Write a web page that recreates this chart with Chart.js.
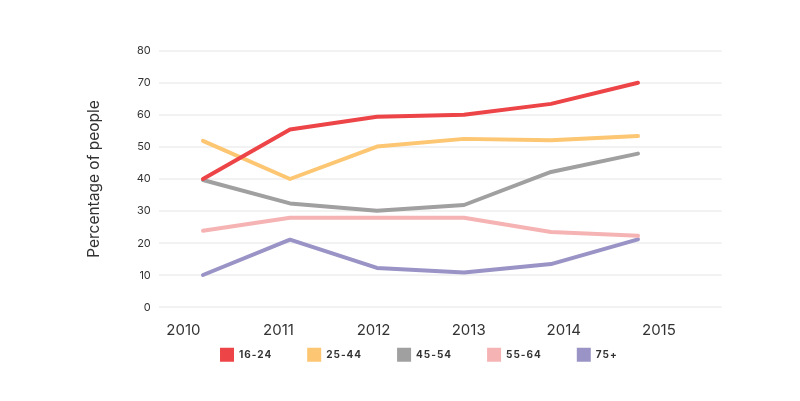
<!DOCTYPE html>
<html>
<head>
<meta charset="utf-8">
<script src="https://cdn.jsdelivr.net/npm/chart.js@4/dist/chart.umd.min.js"></script>
<style>
  html, body { margin: 0; padding: 0; background: #ffffff; }
  #wrap { width: 800px; height: 401px; }
</style>
</head>
<body>
<div id="wrap"><canvas id="c" width="800" height="401"></canvas></div>
<script>
// ---- data ----
const categories = ['2010', '2011', '2012', '2013', '2014', '2015'];
const xTickLabels = ['2010', '2011', '2012', '2013', '2014', '2015'];
const seriesNames = ['16-24', '25-44', '45-54', '55-64', '75+'];
const s16_24 = [40, 55.4, 59.4, 60.0, 63.4, 70.0];
const s25_44 = [51.9, 40.0, 50.1, 52.5, 52.1, 53.4];
const s45_54 = [39.7, 32.4, 30.1, 31.9, 42.2, 47.9];
const s55_64 = [23.9, 27.9, 27.9, 27.9, 23.5, 22.3];
const s75p = [10.1, 21.1, 12.3, 10.9, 13.5, 21.2];
const yTicks = [0, 80, 10]; // min, max, step

const colors = ['#ed4447', '#fcc672', '#a0a0a0', '#f6b3b4', '#9993c6'];
const seriesValues = [s16_24, s25_44, s45_54, s55_64, s75p];

const FONT = 'Inter, "Noto Sans", sans-serif';
const LEGEND_SHIFT = -26.7;

// legend: letter spacing + pull it up towards the axis labels
const legendTweak = {
  id: 'legendTweak',
  afterInit(chart) {
    const lg = chart.legend;
    if (!lg || lg.__patched) return;
    const origFit = lg.fit.bind(lg);
    const origDraw = lg.draw.bind(lg);
    lg.fit = function (...a) {
      const ctx = chart.ctx;
      const prev = ctx.letterSpacing;
      ctx.letterSpacing = '1px';
      const r = origFit(...a);
      ctx.letterSpacing = prev || '0px';
      return r;
    };
    lg.draw = function (...a) {
      const ctx = chart.ctx;
      const prev = ctx.letterSpacing;
      const t = this.top, b = this.bottom;
      this.top = t + LEGEND_SHIFT;
      this.bottom = b + LEGEND_SHIFT;
      ctx.letterSpacing = '1px';
      const r = origDraw(...a);
      ctx.letterSpacing = prev || '0px';
      this.top = t;
      this.bottom = b;
      return r;
    };
    lg.__patched = true;
  }
};

const datasets = seriesNames.map((name, i) => ({
  label: name,
  data: seriesValues[i],
  borderColor: colors[i],
  backgroundColor: colors[i],
  borderWidth: 4,
  pointRadius: 0,
  pointHoverRadius: 0,
  tension: 0,
  borderCapStyle: 'round',
  borderJoinStyle: 'round',
  fill: false,
  xAxisID: 'x',
  yAxisID: 'y'
}));

new Chart(document.getElementById('c'), {
  type: 'line',
  data: { labels: categories, datasets },
  plugins: [legendTweak],
  options: {
    responsive: false,
    animation: false,
    devicePixelRatio: 1,
    layout: { padding: { left: 116, right: 78.3, top: 50.6, bottom: 2.6 } },
    plugins: {
      tooltip: { enabled: false },
      legend: {
        display: true,
        position: 'bottom',
        align: 'center',
        labels: {
          boxWidth: 14,
          boxHeight: 14,
          padding: 35,
          color: '#333333',
          font: { family: FONT, size: 10, weight: 'bold' },
          generateLabels(chart) {
            const items = Chart.defaults.plugins.legend.labels.generateLabels(chart);
            items.forEach(it => { it.lineWidth = 0; it.fillStyle = it.strokeStyle; });
            return items;
          }
        }
      }
    },
    scales: {
      x: {
        type: 'linear',
        display: false,
        min: 2009.498,
        max: 2015.962
      },
      x2: {
        type: 'linear',
        axis: 'x',
        position: 'bottom',
        min: 2009.747,
        max: 2015.66,
        grid: { display: false, drawTicks: false },
        border: { display: false },
        ticks: {
          stepSize: 1,
          includeBounds: false,
          padding: 14,
          color: '#333333',
          font: { family: FONT, size: 15 },
          callback: (v, i) => xTickLabels[i]
        },
        afterFit(scale) { scale.height = 32; }
      },
      y: {
        type: 'linear',
        position: 'left',
        min: yTicks[0],
        max: yTicks[1],
        ticks: {
          stepSize: yTicks[2],
          padding: 8.5,
          color: '#333333',
          font: { family: FONT, size: 11 }
        },
        grid: { color: '#f2f2f2', lineWidth: 2, drawTicks: false },
        border: { display: false },
        title: {
          display: true,
          text: 'Percentage of people',
          color: '#333333',
          font: { family: FONT, size: 15.5 },
          padding: { top: -31, bottom: 0 }
        },
        afterFit(scale) { scale.width = 43.3; }
      }
    }
  }
});
</script>
</body>
</html>
